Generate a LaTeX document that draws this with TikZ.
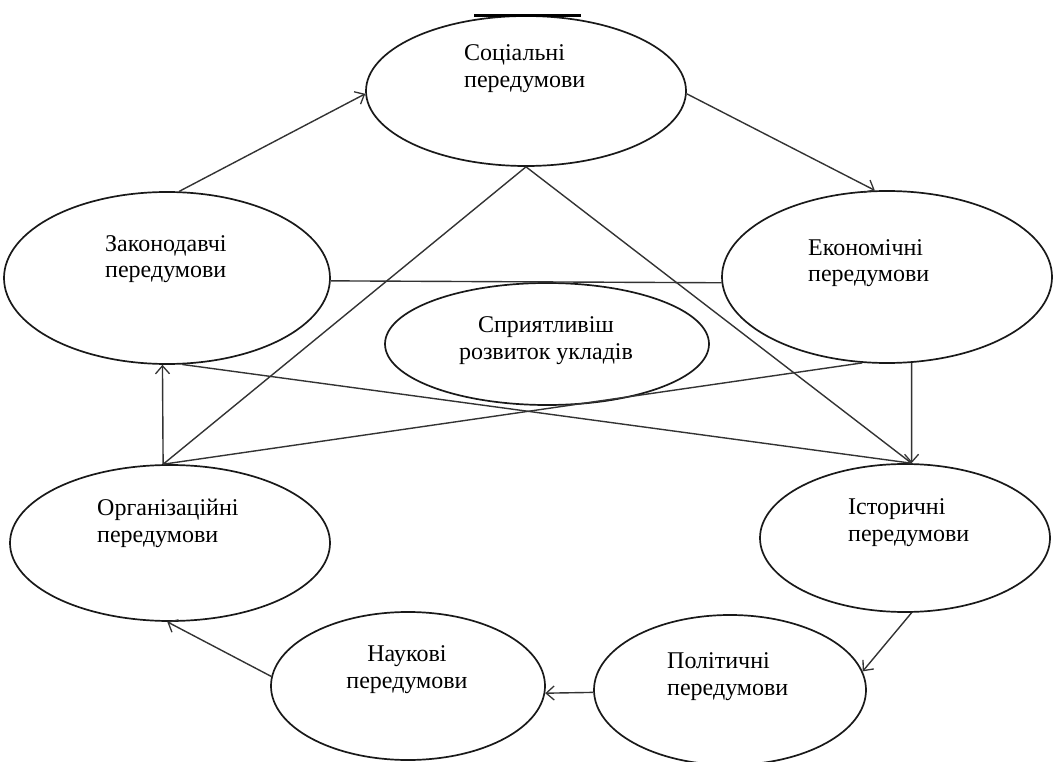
\documentclass[tikz,border=0pt]{standalone}
\usepackage{fontspec}
\setmainfont{Liberation Serif}
\usetikzlibrary{shapes.geometric,arrows.meta}
\begin{document}
\begin{tikzpicture}[x=1pt,y=-1pt,
  oval/.style={ellipse,draw=black!90,line width=1.7pt,inner sep=0pt},
  lbl/.style={inner sep=0pt,font=\fontsize{24}{27}\selectfont,align=left,anchor=base west},
  clbl/.style={inner sep=0pt,font=\fontsize{24}{27}\selectfont,align=center,anchor=base},
  conn/.style={draw=black!80,line width=1.4pt},
  arr/.style={conn,-{Straight Barb[length=8pt,width=14pt,line width=1.3pt]}}]
\useasboundingbox (0,0) rectangle (1058,762);
% ellipses
\node[oval,minimum width=320pt,minimum height=150pt] (soc) at (526,91) {};
\node[oval,minimum width=326pt,minimum height=172pt] (leg) at (167,278) {};
\node[oval,minimum width=330pt,minimum height=172pt] (econ) at (887,277) {};
\node[oval,minimum width=324pt,minimum height=122pt] (cen) at (547,344) {};
\node[oval,minimum width=320pt,minimum height=156pt] (org) at (170,543) {};
\node[oval,minimum width=290pt,minimum height=148pt] (hist) at (905,538) {};
\node[oval,minimum width=274pt,minimum height=148pt] (sci) at (408,686) {};
\node[oval,minimum width=272pt,minimum height=150pt] (pol) at (730,690) {};
% top bar
\draw[line width=3pt] (474,16) -- (581,16);
% labels (anchor = baseline of the last line)
\node[lbl] (soct) at (464,88) {Соціальні\\передумови};
\node[lbl] (legt) at (105,278) {Законодавчі\\передумови};
\node[lbl] (econt) at (808,282) {Економічні\\передумови};
\node[clbl] (cent) at (546,359) {Сприятливіш\\розвиток укладів};
\node[lbl] (orgt) at (97,542) {Організаційні\\передумови};
\node[lbl] (histt) at (848,541) {Історичні\\передумови};
\node[clbl] (scit) at (407,688) {Наукові\\передумови};
\node[lbl] (polt) at (667,695) {Політичні\\передумови};
% connectors
\draw[arr] (leg.82) -- (soc.181);
\draw[arr] (soc.359) -- (econ.98);
\draw[conn] (leg.359) -- (econ.182);
\draw[conn] (soc.south) -- (org.95);
\draw[conn] (soc.south) -- (hist.85);
\draw[arr] (econ.286) -- (hist.85);
\draw[conn] (leg.280) -- (hist.85);
\draw[conn] (econ.254) -- (org.95);
\draw[arr] (org.95) -- (leg.267);
\draw[arr] (hist.275) -- (pol.8);
\draw[arr] (pol.181) -- (sci.357);
\draw[arr] (sci.176) -- (org.268);
\end{tikzpicture}
\end{document}
